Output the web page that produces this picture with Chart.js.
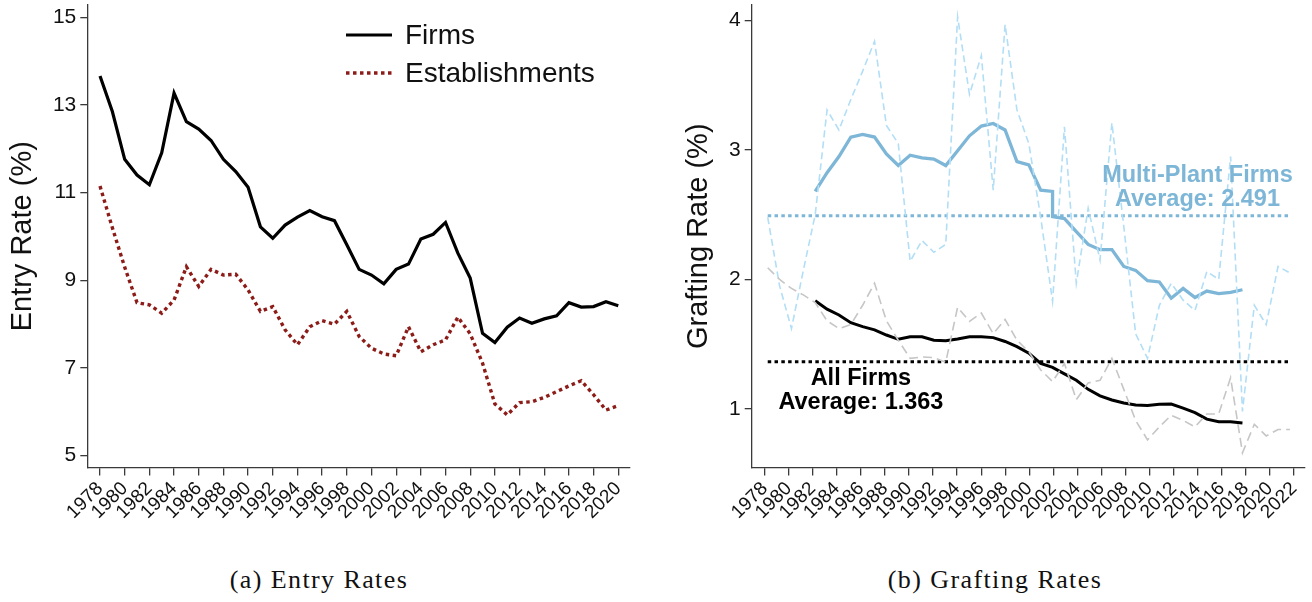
<!DOCTYPE html>
<html>
<head>
<meta charset="utf-8">
<script src="https://cdn.jsdelivr.net/npm/chart.js@4.4.1/dist/chart.umd.min.js"></script>
<style>
  html, body { margin: 0; padding: 0; background: #fff; }
  body { width: 1312px; height: 602px; position: relative; overflow: hidden; }
  .panel { position: absolute; top: 0; }
  #panelA { left: 0; width: 650px; height: 545px; }
  #panelB { left: 676px; width: 636px; height: 545px; }
  .caption {
    position: absolute; top: 565px; transform: translateX(-50%);
    font-family: "Liberation Serif", "Times New Roman", serif; font-size: 26px;
    letter-spacing: 1.4px; color: #111; white-space: nowrap; line-height: 30px;
  }
</style>
</head>
<body>
<div class="panel" id="panelA"><canvas id="entryChart" width="650" height="545"></canvas></div>
<div class="panel" id="panelB"><canvas id="graftChart" width="636" height="545"></canvas></div>
<div class="caption" style="left:319px">(a) Entry Rates</div>
<div class="caption" style="left:995px">(b) Grafting Rates</div>

<script>
// ---------- Panel (a): entry rates ----------
const entryYears = [1978, 1979, 1980, 1981, 1982, 1983, 1984, 1985, 1986, 1987,
  1988, 1989, 1990, 1991, 1992, 1993, 1994, 1995, 1996, 1997,
  1998, 1999, 2000, 2001, 2002, 2003, 2004, 2005, 2006, 2007,
  2008, 2009, 2010, 2011, 2012, 2013, 2014, 2015, 2016, 2017,
  2018, 2019, 2020];
const firmEntry = [13.66, 12.85, 11.76, 11.40, 11.18, 11.91, 13.27, 12.62, 12.45, 12.19,
  11.76, 11.48, 11.12, 10.22, 9.96, 10.26, 10.44, 10.59, 10.45, 10.36,
  9.81, 9.25, 9.12, 8.92, 9.25, 9.37, 9.94, 10.05, 10.32, 9.62,
  9.05, 7.79, 7.58, 7.93, 8.14, 8.02, 8.12, 8.19, 8.49, 8.39,
  8.40, 8.51, 8.42];
const estabEntry = [11.15, 10.20, 9.30, 8.49, 8.44, 8.25, 8.55, 9.31, 8.86, 9.25,
  9.12, 9.14, 8.78, 8.29, 8.40, 7.87, 7.53, 7.94, 8.08, 8.00,
  8.29, 7.72, 7.45, 7.32, 7.28, 7.94, 7.37, 7.53, 7.64, 8.16,
  7.78, 7.11, 6.18, 5.93, 6.21, 6.23, 6.33, 6.46, 6.59, 6.71,
  6.39, 6.04, 6.14];
const entryTicksX = [1978, 1980, 1982, 1984, 1986, 1988, 1990, 1992, 1994, 1996, 1998,
  2000, 2002, 2004, 2006, 2008, 2010, 2012, 2014, 2016, 2018, 2020];
const entryTicksY = [5, 7, 9, 11, 13, 15];

// ---------- Panel (b): grafting rates ----------
const rawYears = [1978, 1979, 1980, 1981, 1982, 1983, 1984, 1985, 1986, 1987,
  1988, 1989, 1990, 1991, 1992, 1993, 1994, 1995, 1996, 1997,
  1998, 1999, 2000, 2001, 2002, 2003, 2004, 2005, 2006, 2007,
  2008, 2009, 2010, 2011, 2012, 2013, 2014, 2015, 2016, 2017,
  2018, 2019, 2020, 2021, 2022];
const multiPlantRaw = [2.48, 1.95, 1.62, 2.07, 2.50, 3.31, 3.155, 3.39, 3.61, 3.84,
  3.19, 3.05, 2.14, 2.30, 2.21, 2.27, 4.03, 3.43, 3.73, 2.69,
  3.97, 3.31, 3.05, 2.48, 1.83, 3.18, 1.97, 2.55, 2.15, 3.21,
  2.41, 1.58, 1.39, 1.80, 1.97, 1.84, 1.76, 2.06, 2.00, 2.95,
  0.98, 1.80, 1.65, 2.10, 2.05];
const allFirmsRaw = [2.09, 2.00, 1.93, 1.88, 1.82, 1.68, 1.62, 1.65, 1.80, 1.97,
  1.68, 1.53, 1.39, 1.40, 1.395, 1.36, 1.785, 1.675, 1.74, 1.58,
  1.69, 1.53, 1.44, 1.30, 1.21, 1.35, 1.07, 1.20, 1.22, 1.39,
  1.15, 0.91, 0.76, 0.86, 0.95, 0.91, 0.86, 0.96, 0.96, 1.24,
  0.66, 0.88, 0.79, 0.84, 0.84];
// smoothed series; 2002 appears twice because the series steps down there
const mpSmoothYears = [1982, 1983, 1984, 1985, 1986, 1987, 1988, 1989, 1990, 1991,
  1992, 1993, 1994, 1995, 1996, 1997, 1998, 1999, 2000, 2001,
  2002, 2002, 2003, 2004, 2005, 2006, 2007, 2008, 2009, 2010,
  2011, 2012, 2013, 2014, 2015, 2016, 2017, 2018];
const multiPlantSmooth = [2.68, 2.825, 2.95, 3.10, 3.12, 3.10, 2.97, 2.88, 2.96, 2.94,
  2.93, 2.88, 2.995, 3.11, 3.185, 3.205, 3.155, 2.91, 2.885, 2.69,
  2.68, 2.485, 2.47, 2.37, 2.27, 2.23, 2.23, 2.10, 2.07, 1.99,
  1.98, 1.855, 1.93, 1.86, 1.91, 1.89, 1.90, 1.92];
const allSmoothYears = [1982, 1983, 1984, 1985, 1986, 1987, 1988, 1989, 1990, 1991,
  1992, 1993, 1994, 1995, 1996, 1997, 1998, 1999, 2000, 2001,
  2002, 2003, 2004, 2005, 2006, 2007, 2008, 2009, 2010, 2011,
  2012, 2013, 2014, 2015, 2016, 2017, 2018];
const allFirmsSmooth = [1.835, 1.77, 1.725, 1.665, 1.635, 1.61, 1.57, 1.537, 1.557, 1.557,
  1.53, 1.526, 1.54, 1.557, 1.557, 1.55, 1.52, 1.48, 1.43, 1.35,
  1.32, 1.27, 1.22, 1.15, 1.10, 1.068, 1.045, 1.03, 1.026, 1.034,
  1.036, 1.005, 0.97, 0.92, 0.90, 0.90, 0.89];
const multiPlantAverage = 2.491;
const allFirmsAverage = 1.363;
const graftTicksX = [1978, 1980, 1982, 1984, 1986, 1988, 1990, 1992, 1994, 1996, 1998,
  2000, 2002, 2004, 2006, 2008, 2010, 2012, 2014, 2016, 2018, 2020, 2022];
const graftTicksY = [1, 2, 3, 4];

// ---------- shared styling ----------
const SANS = '"Liberation Sans", Arial, Helvetica, sans-serif';
const INK = '#111';
const AXIS = '#3a3a3a';
const FIRM_COLOR = '#000000';
const ESTAB_COLOR = '#8c1c18';
const MP_COLOR = '#7db6d6';
const MP_RAW_COLOR = '#b2def6';
const ALL_RAW_COLOR = '#c6c6c6';

Chart.defaults.font.family = SANS;
Chart.defaults.color = INK;
Chart.defaults.animation = false;

const pairs = (xs, ys) => xs.map((x, i) => ({ x: x, y: ys[i] }));

// axes get a fixed thickness and no extra room for overhanging labels
function xAxis(min, max, ticks, height) {
  return {
    type: 'linear', position: 'bottom', min: min, max: max,
    afterBuildTicks: s => { s.ticks = ticks.map(v => ({ value: v })); },
    afterFit: s => { s.height = height; s.paddingLeft = 0; s.paddingRight = 0; },
    ticks: { autoSkip: false, minRotation: 45, maxRotation: 45, padding: 2,
             font: { size: 19 }, color: INK, callback: v => String(v) },
    grid: { drawOnChartArea: false, drawTicks: true, tickLength: 8, color: AXIS, lineWidth: 1.3 },
    border: { display: true, color: AXIS, width: 1.3 }
  };
}
function yAxis(min, max, ticks, width, title) {
  return {
    type: 'linear', position: 'left', min: min, max: max,
    afterBuildTicks: s => { s.ticks = ticks.map(v => ({ value: v })); },
    afterFit: s => { s.width = width; s.paddingTop = 0; s.paddingBottom = 0; },
    ticks: { padding: 4, font: { size: 21 }, color: INK, callback: v => String(v) },
    grid: { drawOnChartArea: false, drawTicks: true, tickLength: 7, color: AXIS, lineWidth: 1.3 },
    border: { display: true, color: AXIS, width: 1.3 },
    title: { display: true, text: title, font: { size: 29 }, color: INK, padding: { top: 6, bottom: 0 } }
  };
}

// legend drawn inside the plot of panel (a)
const entryKey = {
  id: 'entryKey',
  afterDraw(chart) {
    const ctx = chart.ctx;
    ctx.save();
    chart.data.datasets.forEach((ds, i) => {
      const y = 35 + i * 38;
      ctx.beginPath();
      ctx.strokeStyle = ds.borderColor;
      ctx.lineWidth = ds.borderWidth;
      ctx.setLineDash(ds.borderDash || []);
      ctx.moveTo(346, y);
      ctx.lineTo(392, y);
      ctx.stroke();
      ctx.setLineDash([]);
      ctx.fillStyle = INK;
      ctx.font = '28px ' + SANS;
      ctx.textAlign = 'left';
      ctx.textBaseline = 'middle';
      ctx.fillText(ds.label, 405, y + 1);
    });
    ctx.restore();
  }
};

new Chart(document.getElementById('entryChart'), {
  type: 'line',
  data: {
    datasets: [
      { label: 'Firms', data: pairs(entryYears, firmEntry), borderColor: FIRM_COLOR,
        borderWidth: 3.2, pointRadius: 0, tension: 0 },
      { label: 'Establishments', data: pairs(entryYears, estabEntry), borderColor: ESTAB_COLOR,
        borderWidth: 3.4, borderDash: [3.5, 3.5], pointRadius: 0, tension: 0 }
    ]
  },
  options: {
    responsive: false, devicePixelRatio: 1,
    layout: { padding: { top: 5, right: 20, bottom: 0, left: 0 } },
    scales: {
      x: xAxis(1976.97, 2020.95, entryTicksX, 77.5),
      y: yAxis(4.73, 15.28, entryTicksY, 87.3, 'Entry Rate (%)')
    },
    plugins: { legend: { display: false }, tooltip: { enabled: false } }
  },
  plugins: [entryKey]
});

// average labels, placed in data units of panel (b)
const graftNotes = [
  { lines: ['Multi-Plant Firms', 'Average: ' + multiPlantAverage.toFixed(3)], x: 2013.98, y: 2.714, color: MP_COLOR },
  { lines: ['All Firms', 'Average: ' + allFirmsAverage.toFixed(3)], x: 1986.0, y: 1.143, color: '#000' }
];
const graftNoteLayer = {
  id: 'graftNotes',
  afterDatasetsDraw(chart) {
    const ctx = chart.ctx, sx = chart.scales.x, sy = chart.scales.y;
    ctx.save();
    ctx.font = 'bold 23.5px ' + SANS;
    ctx.textAlign = 'center';
    ctx.textBaseline = 'middle';
    graftNotes.forEach(n => {
      ctx.fillStyle = n.color;
      const cx = sx.getPixelForValue(n.x), cy = sy.getPixelForValue(n.y);
      n.lines.forEach((t, i) => ctx.fillText(t, cx, cy + (i - (n.lines.length - 1) / 2) * 24));
    });
    ctx.restore();
  }
};

const spanLine = v => [{ x: rawYears[0], y: v }, { x: rawYears[rawYears.length - 1], y: v }];

new Chart(document.getElementById('graftChart'), {
  type: 'line',
  data: {
    datasets: [
      { label: 'All firms (annual)', data: pairs(rawYears, allFirmsRaw), xAxisID: 'series',
        borderColor: ALL_RAW_COLOR, borderWidth: 1.6, borderDash: [9, 5], pointRadius: 0, tension: 0 },
      { label: 'Multi-plant firms (annual)', data: pairs(rawYears, multiPlantRaw), xAxisID: 'series',
        borderColor: MP_RAW_COLOR, borderWidth: 1.6, borderDash: [7, 4], pointRadius: 0, tension: 0 },
      { label: 'All firms average', data: spanLine(allFirmsAverage), xAxisID: 'series',
        borderColor: '#000', borderWidth: 3, borderDash: [3.5, 3.3], pointRadius: 0 },
      { label: 'Multi-plant firms average', data: spanLine(multiPlantAverage), xAxisID: 'series',
        borderColor: MP_COLOR, borderWidth: 3, borderDash: [3.5, 3.3], pointRadius: 0 },
      { label: 'Multi-plant firms (smoothed)', data: pairs(mpSmoothYears, multiPlantSmooth), xAxisID: 'series',
        borderColor: MP_COLOR, borderWidth: 3.3, pointRadius: 0, tension: 0 },
      { label: 'All firms (smoothed)', data: pairs(allSmoothYears, allFirmsSmooth), xAxisID: 'series',
        borderColor: '#000', borderWidth: 3, pointRadius: 0, tension: 0 }
    ]
  },
  options: {
    responsive: false, devicePixelRatio: 1,
    layout: { padding: { top: 5, right: 7, bottom: 0, left: 0 } },
    scales: {
      x: xAxis(1976.92, 2022.92, graftTicksX, 77.5),
      // year axis of the plotted series (slightly compressed against the labelled one)
      series: { type: 'linear', position: 'bottom', display: false, min: 1976.65, max: 2023.27 },
      y: yAxis(0.546, 4.121, graftTicksY, 75.7, 'Grafting Rate (%)')
    },
    plugins: { legend: { display: false }, tooltip: { enabled: false } }
  },
  plugins: [graftNoteLayer]
});
</script>
</body>
</html>
